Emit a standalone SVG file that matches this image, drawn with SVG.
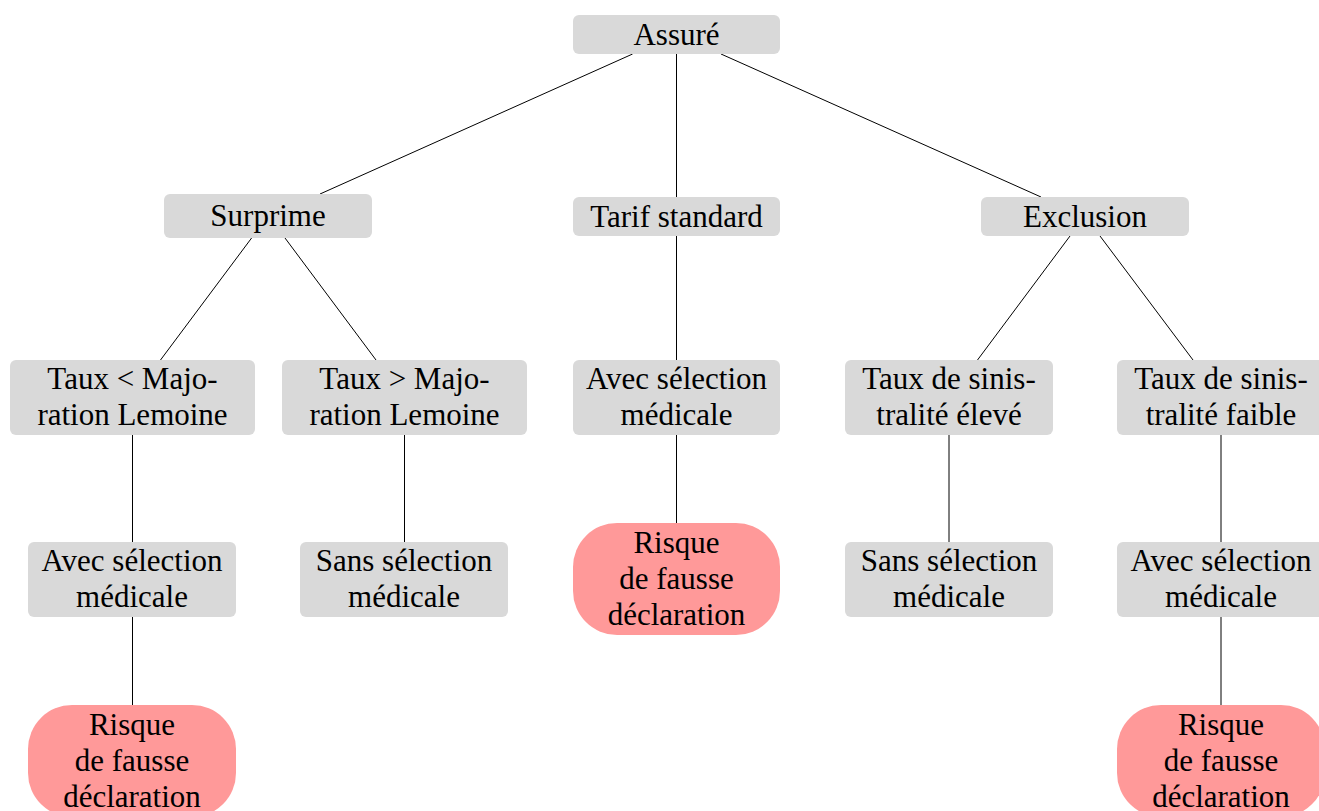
<svg xmlns="http://www.w3.org/2000/svg" width="1319" height="811" viewBox="0 0 1319 811">
  <style>
    .box { fill: #d9d9d9; }
    .risk { fill: #ff9999; }
    .lbl { font-family: "Liberation Serif", "Times New Roman", serif; font-size: 31px; fill: #000; text-anchor: middle; }
    .edge { stroke: #000; stroke-width: 1; fill: none; }
  </style>
  <rect width="1319" height="811" fill="#fff"/>

  <!-- tree edges -->
  <g id="connectors" class="edge">
    <line x1="632.6" y1="54" x2="320" y2="194"/>
    <line x1="676.5" y1="54" x2="676.5" y2="197"/>
    <line x1="721" y1="54" x2="1041" y2="197"/>
    <line x1="251.6" y1="238" x2="160.5" y2="360"/>
    <line x1="285" y1="238" x2="376" y2="360"/>
    <line x1="676.5" y1="236" x2="676.5" y2="360"/>
    <line x1="1070" y1="236" x2="977.5" y2="360"/>
    <line x1="1100" y1="236" x2="1193" y2="360"/>
    <line x1="132.5" y1="435" x2="132.5" y2="542"/>
    <line x1="404.5" y1="435" x2="404.5" y2="542"/>
    <line x1="676.5" y1="435" x2="676.5" y2="523"/>
    <line x1="949" y1="435" x2="949" y2="542"/>
    <line x1="1221" y1="435" x2="1221" y2="542"/>
    <line x1="132.5" y1="617" x2="132.5" y2="705"/>
    <line x1="1221" y1="617" x2="1221" y2="705"/>
  </g>

  <!-- root -->
  <g id="assure">
    <rect class="box" x="573" y="15" width="207" height="39" rx="6"/>
    <text class="lbl" x="676.5" y="45">Assuré</text>
  </g>

  <!-- level 1 -->
  <g id="surprime">
    <rect class="box" x="164" y="194" width="208" height="44" rx="6"/>
    <text class="lbl" x="268" y="226">Surprime</text>
  </g>
  <g id="tarif-standard">
    <rect class="box" x="573" y="197" width="207" height="39" rx="6"/>
    <text class="lbl" x="676.5" y="227">Tarif standard</text>
  </g>
  <g id="exclusion">
    <rect class="box" x="981" y="197" width="208" height="39" rx="6"/>
    <text class="lbl" x="1085" y="227">Exclusion</text>
  </g>

  <!-- level 2 -->
  <g id="taux-inf-lemoine">
    <rect class="box" x="10" y="360" width="245" height="75" rx="6"/>
    <text class="lbl" x="132.5" y="389">Taux &lt; Majo-<tspan x="132.5" dy="36">ration Lemoine</tspan></text>
  </g>
  <g id="taux-sup-lemoine">
    <rect class="box" x="282" y="360" width="245" height="75" rx="6"/>
    <text class="lbl" x="404.5" y="389">Taux &gt; Majo-<tspan x="404.5" dy="36">ration Lemoine</tspan></text>
  </g>
  <g id="standard-avec-selection">
    <rect class="box" x="573" y="360" width="207" height="75" rx="6"/>
    <text class="lbl" x="676.5" y="389">Avec sélection<tspan x="676.5" dy="36">médicale</tspan></text>
  </g>
  <g id="sinistralite-elevee">
    <rect class="box" x="845" y="360" width="208" height="75" rx="6"/>
    <text class="lbl" x="949" y="389">Taux de sinis-<tspan x="949" dy="36">tralité élevé</tspan></text>
  </g>
  <g id="sinistralite-faible">
    <rect class="box" x="1117" y="360" width="208" height="75" rx="6"/>
    <text class="lbl" x="1221" y="389">Taux de sinis-<tspan x="1221" dy="36">tralité faible</tspan></text>
  </g>

  <!-- level 3 -->
  <g id="inf-avec-selection">
    <rect class="box" x="28" y="542" width="208" height="75" rx="6"/>
    <text class="lbl" x="132" y="571">Avec sélection<tspan x="132" dy="36">médicale</tspan></text>
  </g>
  <g id="sup-sans-selection">
    <rect class="box" x="300" y="542" width="208" height="75" rx="6"/>
    <text class="lbl" x="404" y="571">Sans sélection<tspan x="404" dy="36">médicale</tspan></text>
  </g>
  <g id="standard-risque">
    <rect class="risk" x="573" y="523" width="207" height="112" rx="44"/>
    <text class="lbl" x="676.5" y="553">Risque<tspan x="676.5" dy="36">de fausse</tspan><tspan x="676.5" dy="36">déclaration</tspan></text>
  </g>
  <g id="elevee-sans-selection">
    <rect class="box" x="845" y="542" width="208" height="75" rx="6"/>
    <text class="lbl" x="949" y="571">Sans sélection<tspan x="949" dy="36">médicale</tspan></text>
  </g>
  <g id="faible-avec-selection">
    <rect class="box" x="1117" y="542" width="208" height="75" rx="6"/>
    <text class="lbl" x="1221" y="571">Avec sélection<tspan x="1221" dy="36">médicale</tspan></text>
  </g>

  <!-- level 4 -->
  <g id="inf-risque">
    <rect class="risk" x="28" y="705" width="208" height="112" rx="44"/>
    <text class="lbl" x="132" y="735">Risque<tspan x="132" dy="36">de fausse</tspan><tspan x="132" dy="36">déclaration</tspan></text>
  </g>
  <g id="faible-risque">
    <rect class="risk" x="1117" y="705" width="208" height="112" rx="44"/>
    <text class="lbl" x="1221" y="735">Risque<tspan x="1221" dy="36">de fausse</tspan><tspan x="1221" dy="36">déclaration</tspan></text>
  </g>
</svg>
